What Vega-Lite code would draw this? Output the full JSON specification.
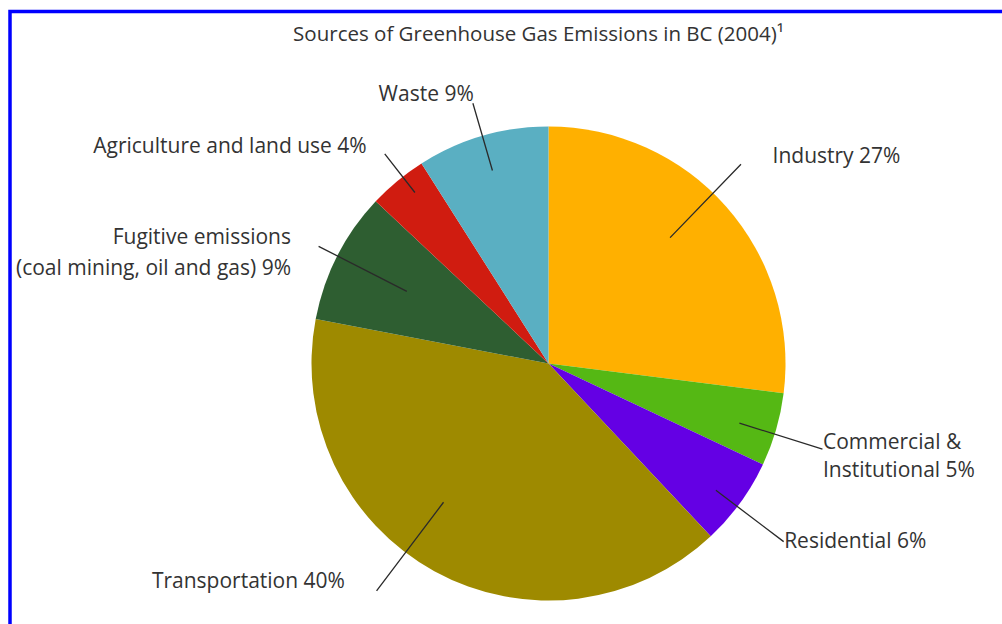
{
  "$schema": "https://vega.github.io/schema/vega-lite/v6.json",
  "width": 1077,
  "height": 704,
  "autosize": {"type": "none"},
  "padding": {"left": 10, "top": 11.5, "right": 0, "bottom": 0},
  "background": "white",
  "view": {"stroke": "#0000ff", "strokeWidth": 3.5},
  "config": {"view": {"stroke": "#0000ff", "strokeWidth": 3.5}, "style": {"cell": {"stroke": "#0000ff", "strokeWidth": 3.5}}},
  "title": {
    "text": "Sources of Greenhouse Gas Emissions in BC (2004)¹",
    "anchor": "middle",
    "frame": "group",
    "offset": -49.5,
    "baseline": "alphabetic",
    "dx": -10,
    "font": "Open Sans",
    "fontSize": 20.5,
    "fontWeight": "normal",
    "color": "#333333"
  },
  "data": {
    "values": [
      {"cat": "Industry", "label": "Industry 27%", "value": 27, "ord": 1},
      {"cat": "Commercial", "label": "Commercial &\nInstitutional 5%", "value": 5, "ord": 2},
      {"cat": "Residential", "label": "Residential 6%", "value": 6, "ord": 3},
      {"cat": "Transportation", "label": "Transportation 40%", "value": 40, "ord": 4},
      {"cat": "Fugitive", "label": "Fugitive emissions\n(coal mining, oil and gas) 9%", "value": 9, "ord": 5},
      {"cat": "Agriculture", "label": "Agriculture and land use 4%", "value": 4, "ord": 6},
      {"cat": "Waste", "label": "Waste 9%", "value": 9, "ord": 7}
    ]
  },
  "layer": [
    {
      "mark": {"type": "arc", "outerRadius": 237},
      "encoding": {
        "theta": {"field": "value", "type": "quantitative", "stack": true},
        "order": {"field": "ord", "type": "quantitative"},
        "color": {
          "field": "cat", "type": "nominal", "legend": null,
          "scale": {
            "domain": ["Industry", "Commercial", "Residential", "Transportation", "Fugitive", "Agriculture", "Waste"],
            "range": ["#ffb000", "#55b814", "#6400e4", "#9e8a00", "#2e5e31", "#d01c10", "#5aafc2"]
          }
        }
      }
    },
    {
      "mark": {"type": "arc", "innerRadius": 175, "outerRadius": 277, "padAngle": 3.14, "fillOpacity": 0, "stroke": "#2a2a2a", "strokeWidth": 1.3, "thetaOffset": -0.08, "theta2Offset": -0.08},
      "encoding": {
        "theta": {"field": "value", "type": "quantitative", "stack": true},
        "order": {"field": "ord", "type": "quantitative"},
        "strokeOpacity": {"condition": {"test": "datum.cat === 'Industry'", "value": 1}, "value": 0}
      }
    },
    {
      "mark": {"type": "arc", "innerRadius": 200, "outerRadius": 287, "padAngle": 3.14, "fillOpacity": 0, "stroke": "#2a2a2a", "strokeWidth": 1.3, "thetaOffset": 0.02, "theta2Offset": 0.02},
      "encoding": {
        "theta": {"field": "value", "type": "quantitative", "stack": true},
        "order": {"field": "ord", "type": "quantitative"},
        "strokeOpacity": {"condition": {"test": "datum.cat === 'Commercial'", "value": 1}, "value": 0}
      }
    },
    {
      "mark": {"type": "arc", "innerRadius": 210, "outerRadius": 295, "padAngle": 3.14, "fillOpacity": 0, "stroke": "#2a2a2a", "strokeWidth": 1.3, "thetaOffset": 0.02, "theta2Offset": 0.02},
      "encoding": {
        "theta": {"field": "value", "type": "quantitative", "stack": true},
        "order": {"field": "ord", "type": "quantitative"},
        "strokeOpacity": {"condition": {"test": "datum.cat === 'Residential'", "value": 1}, "value": 0}
      }
    },
    {
      "mark": {"type": "arc", "innerRadius": 174, "outerRadius": 285, "padAngle": 3.14, "fillOpacity": 0, "stroke": "#2a2a2a", "strokeWidth": 1.3, "thetaOffset": 0.145, "theta2Offset": 0.145},
      "encoding": {
        "theta": {"field": "value", "type": "quantitative", "stack": true},
        "order": {"field": "ord", "type": "quantitative"},
        "strokeOpacity": {"condition": {"test": "datum.cat === 'Transportation'", "value": 1}, "value": 0}
      }
    },
    {
      "mark": {"type": "arc", "innerRadius": 159, "outerRadius": 258, "padAngle": 3.14, "fillOpacity": 0, "stroke": "#2a2a2a", "strokeWidth": 1.3},
      "encoding": {
        "theta": {"field": "value", "type": "quantitative", "stack": true},
        "order": {"field": "ord", "type": "quantitative"},
        "strokeOpacity": {"condition": {"test": "datum.cat === 'Fugitive'", "value": 1}, "value": 0}
      }
    },
    {
      "mark": {"type": "arc", "innerRadius": 217, "outerRadius": 266, "padAngle": 3.14, "fillOpacity": 0, "stroke": "#2a2a2a", "strokeWidth": 1.3, "thetaOffset": 0.028, "theta2Offset": 0.028},
      "encoding": {
        "theta": {"field": "value", "type": "quantitative", "stack": true},
        "order": {"field": "ord", "type": "quantitative"},
        "strokeOpacity": {"condition": {"test": "datum.cat === 'Agriculture'", "value": 1}, "value": 0}
      }
    },
    {
      "mark": {"type": "arc", "innerRadius": 201, "outerRadius": 271, "padAngle": 3.14, "fillOpacity": 0, "stroke": "#2a2a2a", "strokeWidth": 1.3},
      "encoding": {
        "theta": {"field": "value", "type": "quantitative", "stack": true},
        "order": {"field": "ord", "type": "quantitative"},
        "strokeOpacity": {"condition": {"test": "datum.cat === 'Waste'", "value": 1}, "value": 0}
      }
    },
    {
      "mark": {"type": "text", "radius": 300, "align": "left", "baseline": "middle", "dx": -1, "dy": -8, "font": "Open Sans", "fontSize": 21, "color": "#333333", "lineBreak": "\n", "lineHeight": 28},
      "encoding": {
        "theta": {"field": "value", "type": "quantitative", "stack": true},
        "order": {"field": "ord", "type": "quantitative"},
        "text": {"condition": {"test": "datum.cat === 'Industry'", "field": "label"}, "value": ""}
      }
    },
    {
      "mark": {"type": "text", "radius": 290, "align": "left", "baseline": "middle", "dx": -4, "dy": -1, "font": "Open Sans", "fontSize": 21, "color": "#333333", "lineBreak": "\n", "lineHeight": 28},
      "encoding": {
        "theta": {"field": "value", "type": "quantitative", "stack": true},
        "order": {"field": "ord", "type": "quantitative"},
        "text": {"condition": {"test": "datum.cat === 'Commercial'", "field": "label"}, "value": ""}
      }
    },
    {
      "mark": {"type": "text", "radius": 295, "align": "left", "baseline": "middle", "dx": -3, "dy": 5, "font": "Open Sans", "fontSize": 21, "color": "#333333", "lineBreak": "\n", "lineHeight": 28},
      "encoding": {
        "theta": {"field": "value", "type": "quantitative", "stack": true},
        "order": {"field": "ord", "type": "quantitative"},
        "text": {"condition": {"test": "datum.cat === 'Residential'", "field": "label"}, "value": ""}
      }
    },
    {
      "mark": {"type": "text", "radius": 300, "align": "right", "baseline": "middle", "dx": -59, "dy": -44, "font": "Open Sans", "fontSize": 21, "color": "#333333", "lineBreak": "\n", "lineHeight": 28},
      "encoding": {
        "theta": {"field": "value", "type": "quantitative", "stack": true},
        "order": {"field": "ord", "type": "quantitative"},
        "text": {"condition": {"test": "datum.cat === 'Transportation'", "field": "label"}, "value": ""}
      }
    },
    {
      "mark": {"type": "text", "radius": 280, "align": "right", "baseline": "middle", "dx": -8, "dy": 2, "font": "Open Sans", "fontSize": 21, "color": "#333333", "lineBreak": "\n", "lineHeight": 31},
      "encoding": {
        "theta": {"field": "value", "type": "quantitative", "stack": true},
        "order": {"field": "ord", "type": "quantitative"},
        "text": {"condition": {"test": "datum.cat === 'Fugitive'", "field": "label"}, "value": ""}
      }
    },
    {
      "mark": {"type": "text", "radius": 282, "align": "right", "baseline": "middle", "dx": -2, "dy": 1, "font": "Open Sans", "fontSize": 21, "color": "#333333", "lineBreak": "\n", "lineHeight": 28},
      "encoding": {
        "theta": {"field": "value", "type": "quantitative", "stack": true},
        "order": {"field": "ord", "type": "quantitative"},
        "text": {"condition": {"test": "datum.cat === 'Agriculture'", "field": "label"}, "value": ""}
      }
    },
    {
      "mark": {"type": "text", "radius": 295, "align": "center", "baseline": "middle", "dx": -40, "dy": 15, "font": "Open Sans", "fontSize": 21, "color": "#333333", "lineBreak": "\n", "lineHeight": 28},
      "encoding": {
        "theta": {"field": "value", "type": "quantitative", "stack": true},
        "order": {"field": "ord", "type": "quantitative"},
        "text": {"condition": {"test": "datum.cat === 'Waste'", "field": "label"}, "value": ""}
      }
    }
  ]
}
